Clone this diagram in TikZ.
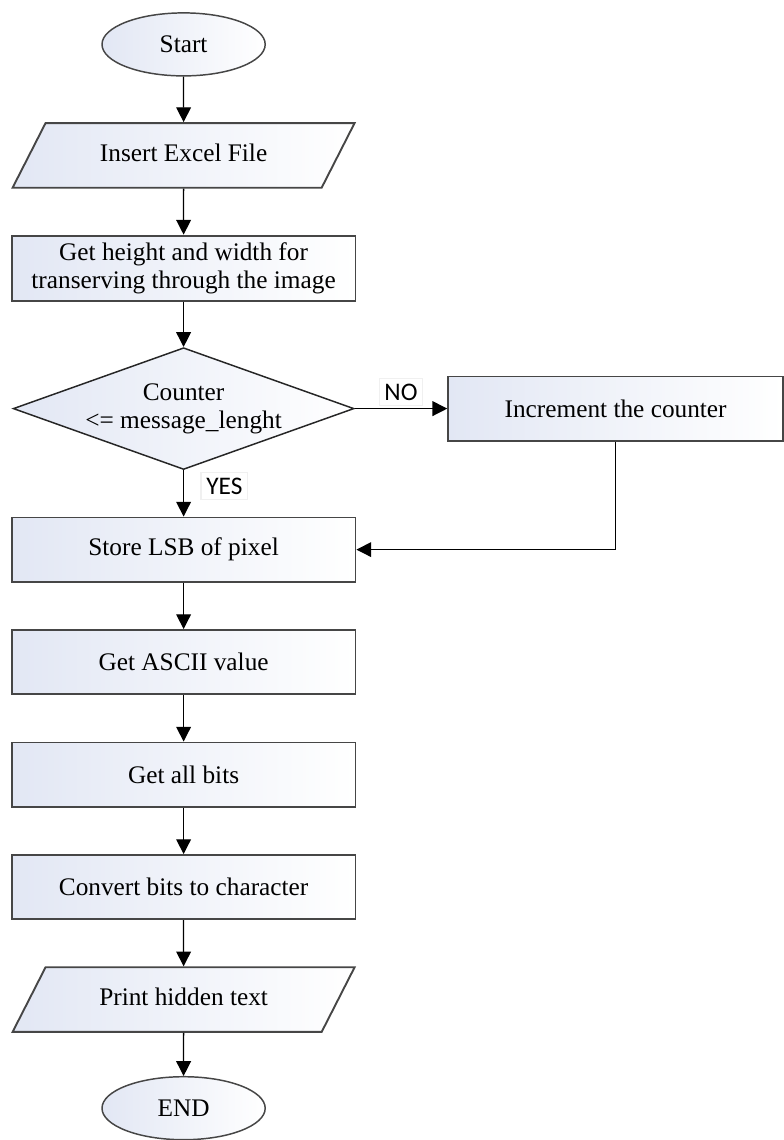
\documentclass[tikz,border=0pt]{standalone}
\usepackage{fontspec}
\setmainfont{Liberation Serif}
\newfontfamily\labelfont{Carlito}
\usepackage{tikz}
\usetikzlibrary{shapes.geometric, arrows.meta}
\definecolor{boxfill}{RGB}{226,231,244}
\definecolor{boxline}{RGB}{70,70,70}
\tikzstyle{startstop} = [ellipse, minimum width=2.72cm, minimum height=1.05cm, inner sep=0pt, text centered, draw=boxline, line width=0.7pt, left color=boxfill, right color=white]
\tikzstyle{io} = [trapezium, trapezium left angle=63, trapezium right angle=117, trapezium stretches body, minimum width=5.7cm, text height=9pt, text depth=3pt, inner ysep=0.328cm, text centered, draw=boxline, line width=0.9pt, left color=boxfill, right color=white]
\tikzstyle{process} = [rectangle, minimum width=5.73cm, minimum height=1.07cm, align=center, draw=boxline, line width=0.9pt, left color=boxfill, right color=white]
\tikzstyle{decision} = [diamond, aspect=2.8, minimum width=5.68cm, minimum height=2.03cm, inner sep=0pt, align=center, draw=black!85, line width=0.7pt, left color=boxfill, right color=white]
\tikzstyle{yesno} = [rectangle, fill=white, draw=black!6, font=\labelfont\fontsize{12}{13}\selectfont, inner sep=2.5pt]
\tikzstyle{arrow} = [line width=0.6pt,->,>={Triangle[length=7pt,width=7pt]}]

\begin{document}
\begin{tikzpicture}[node distance=1.875cm, font=\fontsize{12}{13.2}\selectfont]
		\useasboundingbox (0,0) rectangle (13.05,-19);
		\node (start) [startstop] at (3.06,-0.74) {Start};
		\node (insert) [io, below of=start, node distance=1.85cm] {Insert Excel File};
		\node (size) [process, below of=insert, node distance=1.88cm] {Get height and width for\\transerving through the image};
		\node (cond) [decision, below of=size, node distance=2.34cm] {Counter\\<= message\_lenght};
		\node (incr) [process, right of=cond, node distance=7.2cm, minimum width=5.58cm] {Increment the counter};
		\node (store) [process, below of=cond, node distance=2.35cm] {Store LSB of pixel};
		\node (ascii) [process, below of=store] {Get ASCII value};
		\node (bits) [process, below of=ascii] {Get all bits};
		\node (conv) [process, below of=bits] {Convert bits to character};
		\node (print) [io, below of=conv] {Print hidden text};
		\node (stop) [startstop, below of=print, node distance=1.81cm] {END};
		\draw [arrow] (start) -- (insert);
		\draw [arrow] (insert) -- (size);
		\draw [arrow] (size) -- (cond);
		\draw [arrow] (cond) -- node[yesno, above=1pt] {NO} (incr);
		\draw [arrow] (cond) -- node[yesno, pos=0.34, anchor=west, xshift=0.28cm] {YES} (store);
		\draw [arrow] (incr.south) |- (store.east);
		\draw [arrow] (store) -- (ascii);
		\draw [arrow] (ascii) -- (bits);
		\draw [arrow] (bits) -- (conv);
		\draw [arrow] (conv) -- (print);
		\draw [arrow] (print) -- (stop);
		\end{tikzpicture}
\end{document}
